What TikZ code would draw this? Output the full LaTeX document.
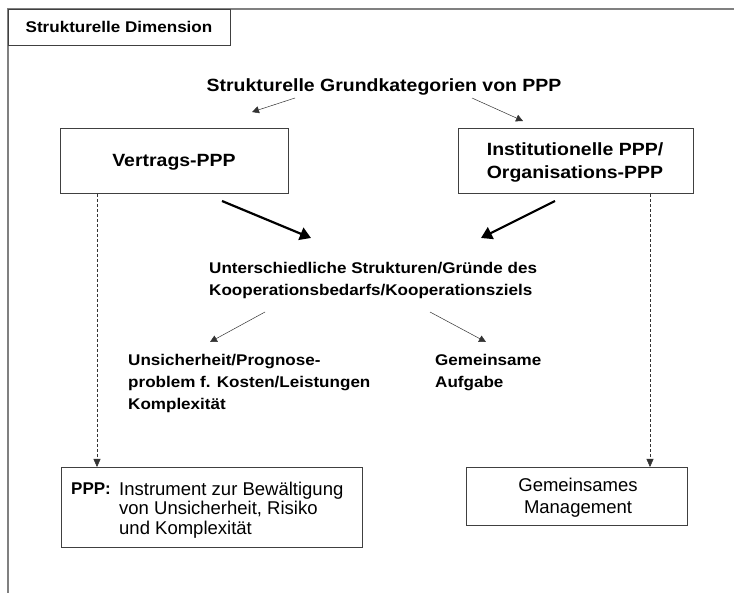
\documentclass[tikz,border=0pt]{standalone}
\usepackage{fontspec}
\setmainfont{Liberation Sans}
\newfontfamily\wideb[FakeStretch=1.1]{Liberation Sans Bold}
\usetikzlibrary{arrows.meta}
\begin{document}
\begin{tikzpicture}[x=1pt,y=-1pt,
  frameline/.style={draw=black!50, line width=1.2pt},
  boxed/.style={draw=black!75, line width=0.8pt},
  lbl/.style={font=\wideb\fontsize{17.7}{21}\selectfont, inner sep=0pt},
  smalllbl/.style={font=\wideb\fontsize{15.5}{22.5}\selectfont, inner sep=0pt},
  plain/.style={font=\fontsize{18.5}{19.5}\selectfont, inner sep=0pt},
  thinarrow/.style={draw=black!80, line width=0.5pt, -{Triangle[width=7pt,length=7pt]}},
  thickarrow/.style={draw=black, line width=2.2pt, -{Triangle[width=13pt,length=11pt]}},
  dasharrow/.style={draw=black!80, line width=0.5pt, dash pattern=on 3pt off 2pt, -{Triangle[width=7pt,length=8pt]}}
]
\useasboundingbox (0,0) rectangle (734,593);
\fill[white] (0,0) rectangle (734,593);
% outer frame
\coordinate (ftl) at (8,9);
\coordinate (ftr) at (734,9);
\coordinate (fbl) at (8,593);
\draw[frameline] (ftr) -- (ftl) -- (fbl);
\node[boxed, anchor=north west, minimum width=222pt, minimum height=36pt, inner sep=0pt] (dim) at (8,9) {};
\node[smalllbl] (dimt) at (119,27) {Strukturelle Dimension};

% title
\node[lbl] (title) at (384,87) {Strukturelle Grundkategorien von PPP};

% boxes
\node[boxed, anchor=north west, minimum width=228pt, minimum height=65pt, inner sep=0pt] (vpp) at (60,128) {};
\node[lbl] (vppt) at (174,162) {Vertrags-PPP};
\node[boxed, anchor=north west, minimum width=235pt, minimum height=65pt, inner sep=0pt] (ipp) at (458,128) {};
\node[lbl, font=\wideb\fontsize{17.7}{23}\selectfont, align=center] (ippt) at (575,162) {Institutionelle PPP/\\Organisations-PPP};

\coordinate (ta1) at (295,98);
\coordinate (ta1e) at (252,112);
\coordinate (ta2) at (472,98);
\coordinate (ta2e) at (523,121);
\draw[thinarrow] (ta1) -- (ta1e);
\draw[thinarrow] (ta2) -- (ta2e);

% thick arrows
\coordinate (k1) at (222,201);
\coordinate (k1e) at (311,238);
\coordinate (k2) at (555,201);
\coordinate (k2e) at (481,238);
\draw[thickarrow] (k1) -- (k1e);
\draw[thickarrow] (k2) -- (k2e);

% middle text
\node[smalllbl, align=left, anchor=north west] (mid) at (209,262) {Unterschiedliche Strukturen/Gründe des\\Kooperationsbedarfs/Kooperationsziels};

\coordinate (m1) at (265,312);
\coordinate (m1e) at (210,342);
\coordinate (m2) at (430,312);
\coordinate (m2e) at (486,342);
\draw[thinarrow] (m1) -- (m1e);
\draw[thinarrow] (m2) -- (m2e);

\node[smalllbl, align=left, anchor=north west, font=\wideb\fontsize{15.5}{22}\selectfont] (unsich) at (128,354) {Unsicherheit/Prognose-\\problem f. Kosten/Leistungen\\Komplexität};
\node[smalllbl, align=left, anchor=north west, font=\wideb\fontsize{15.5}{22}\selectfont] (gem) at (435,354) {Gemeinsame\\Aufgabe};

% bottom boxes
\node[boxed, anchor=north west, minimum width=301pt, minimum height=80pt, inner sep=0pt] (instr) at (61,467) {};
\node[plain, anchor=base west, align=left] (instrt) at (119,534) {Instrument zur Bewältigung\\von Unsicherheit, Risiko\\und Komplexität};
\node[plain, anchor=base west, font=\bfseries\fontsize{17}{19.5}\selectfont] (ppplbl) at (71,495) {PPP:};
\node[boxed, anchor=north west, minimum width=221pt, minimum height=58pt, inner sep=0pt] (mgmt) at (466,467) {};
\node[plain, align=center, anchor=base, font=\fontsize{18.5}{21}\selectfont] (mgmtt) at (578,513) {Gemeinsames\\Management};

\draw[dasharrow] (vpp.south -| 97,0) -- (instr.north -| 97,0);
\draw[dasharrow] (ipp.south -| 650,0) -- (mgmt.north -| 650,0);
\end{tikzpicture}
\end{document}
